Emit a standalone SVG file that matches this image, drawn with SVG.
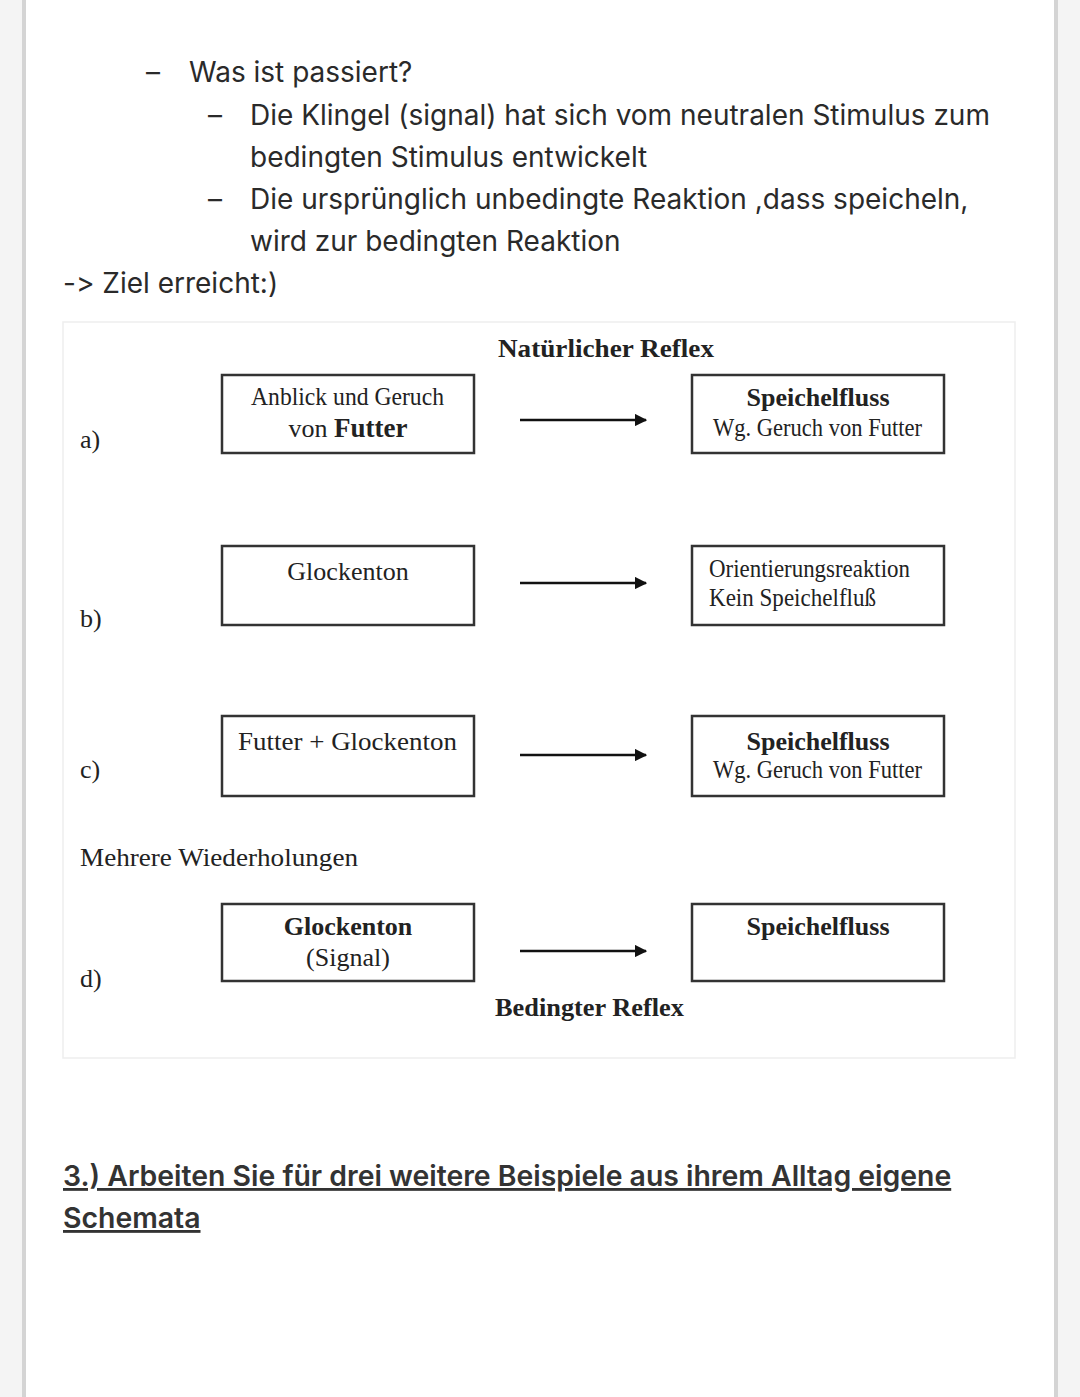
<svg xmlns="http://www.w3.org/2000/svg" width="1080" height="1397" viewBox="0 0 1080 1397">
<defs>
<style>
.s{font-family:Inter,"Open Sans","Liberation Sans",sans-serif;font-size:28px;fill:#2a2a2a;font-variant-ligatures:none;font-feature-settings:"calt" 0,"liga" 0}
.h{font-family:Inter,"Open Sans","Liberation Sans",sans-serif;font-size:28.4px;fill:#333;font-weight:600;text-decoration:underline}
.t{font-family:"Liberation Serif","Times New Roman",serif;font-size:26px;fill:#222}
.tb{font-family:"Liberation Serif","Times New Roman",serif;font-size:26px;fill:#222;font-weight:bold}
.box{fill:#fff;stroke:#333;stroke-width:2.5}
.con{stroke:#111;stroke-width:2.5;fill:none}
</style>
<marker id="ah" viewBox="0 0 10 10" refX="9" refY="5" markerWidth="5" markerHeight="5" orient="auto" markerUnits="strokeWidth"><path d="M0,0 L10,5 L0,10 z" fill="#111"/></marker>
</defs>
<rect width="1080" height="1397" fill="#f4f4f4"/>
<rect x="24" y="-5" width="1032" height="1410" fill="#fff" stroke="#d4d4d4" stroke-width="4"/>
<g id="text-top">
<text class="s" x="146" y="82">–</text>
<text class="s" x="189" y="82">Was ist passiert?</text>
<text class="s" x="208" y="125">–</text>
<text class="s" x="250" y="125">Die Klingel (signal) hat sich vom neutralen Stimulus zum</text>
<text class="s" x="250" y="167">bedingten Stimulus entwickelt</text>
<text class="s" x="208" y="209">–</text>
<text class="s" x="250" y="209">Die ursprünglich unbedingte Reaktion ,dass speicheln,</text>
<text class="s" x="250" y="251">wird zur bedingten Reaktion</text>
<text class="s" x="63" y="293">-&gt; Ziel erreicht:)</text>
</g>
<rect x="63" y="322" width="952" height="736" fill="#fff" stroke="#eeeeee" stroke-width="1.5"/>
<text class="tb" x="498" y="357" textLength="216" lengthAdjust="spacingAndGlyphs">Natürlicher Reflex</text>
<text class="t" x="80" y="448">a)</text>
<text class="t" x="80" y="627">b)</text>
<text class="t" x="80" y="778">c)</text>
<text class="t" x="80" y="987">d)</text>
<text class="t" x="80" y="866" textLength="278" lengthAdjust="spacingAndGlyphs">Mehrere Wiederholungen</text>
<text class="tb" x="495" y="1016" textLength="189" lengthAdjust="spacingAndGlyphs">Bedingter Reflex</text>
<g id="a-left"><rect class="box" x="222" y="375" width="252" height="78"/>
<text class="t" x="251" y="405" font-size="25" textLength="193" lengthAdjust="spacingAndGlyphs">Anblick und Geruch</text>
<text class="t" x="348" y="437" text-anchor="middle" font-size="25">von <tspan font-weight="bold" font-size="27">Futter</tspan></text></g>
<g id="a-right"><rect class="box" x="692" y="375" width="252" height="78"/>
<text class="tb" x="818" y="406" text-anchor="middle" font-size="27">Speichelfluss</text>
<text class="t" x="713" y="436" font-size="23" textLength="209" lengthAdjust="spacingAndGlyphs">Wg. Geruch von Futter</text></g>
<g id="b-left"><rect class="box" x="222" y="546" width="252" height="79"/>
<text class="t" x="348" y="580" text-anchor="middle">Glockenton</text></g>
<g id="b-right"><rect class="box" x="692" y="546" width="252" height="79"/>
<text class="t" x="709" y="577" font-size="24" textLength="201" lengthAdjust="spacingAndGlyphs">Orientierungsreaktion</text>
<text class="t" x="709" y="606" font-size="24" textLength="167" lengthAdjust="spacingAndGlyphs">Kein  Speichelfluß</text></g>
<g id="c-left"><rect class="box" x="222" y="716" width="252" height="80"/>
<text class="t" x="238" y="750" textLength="219" lengthAdjust="spacingAndGlyphs">Futter + Glockenton</text></g>
<g id="c-right"><rect class="box" x="692" y="716" width="252" height="80"/>
<text class="tb" x="818" y="750" text-anchor="middle" font-size="27">Speichelfluss</text>
<text class="t" x="713" y="778" font-size="23" textLength="209" lengthAdjust="spacingAndGlyphs">Wg. Geruch von Futter</text></g>
<g id="d-left"><rect class="box" x="222" y="904" width="252" height="77"/>
<text class="tb" x="348" y="935" text-anchor="middle">Glockenton</text>
<text class="t" x="348" y="966" text-anchor="middle">(Signal)</text></g>
<g id="d-right"><rect class="box" x="692" y="904" width="252" height="77"/>
<text class="tb" x="818" y="935" text-anchor="middle" font-size="27">Speichelfluss</text></g>
<g id="connectors">
<line class="con" x1="520" y1="420" x2="646" y2="420" marker-end="url(#ah)"/>
<line class="con" x1="520" y1="583" x2="646" y2="583" marker-end="url(#ah)"/>
<line class="con" x1="520" y1="755" x2="646" y2="755" marker-end="url(#ah)"/>
<line class="con" x1="520" y1="951" x2="646" y2="951" marker-end="url(#ah)"/>
</g>
<text class="h" x="63" y="1186">3.) Arbeiten Sie für drei weitere Beispiele aus ihrem Alltag eigene</text>
<text class="h" x="63" y="1228">Schemata</text>
</svg>
